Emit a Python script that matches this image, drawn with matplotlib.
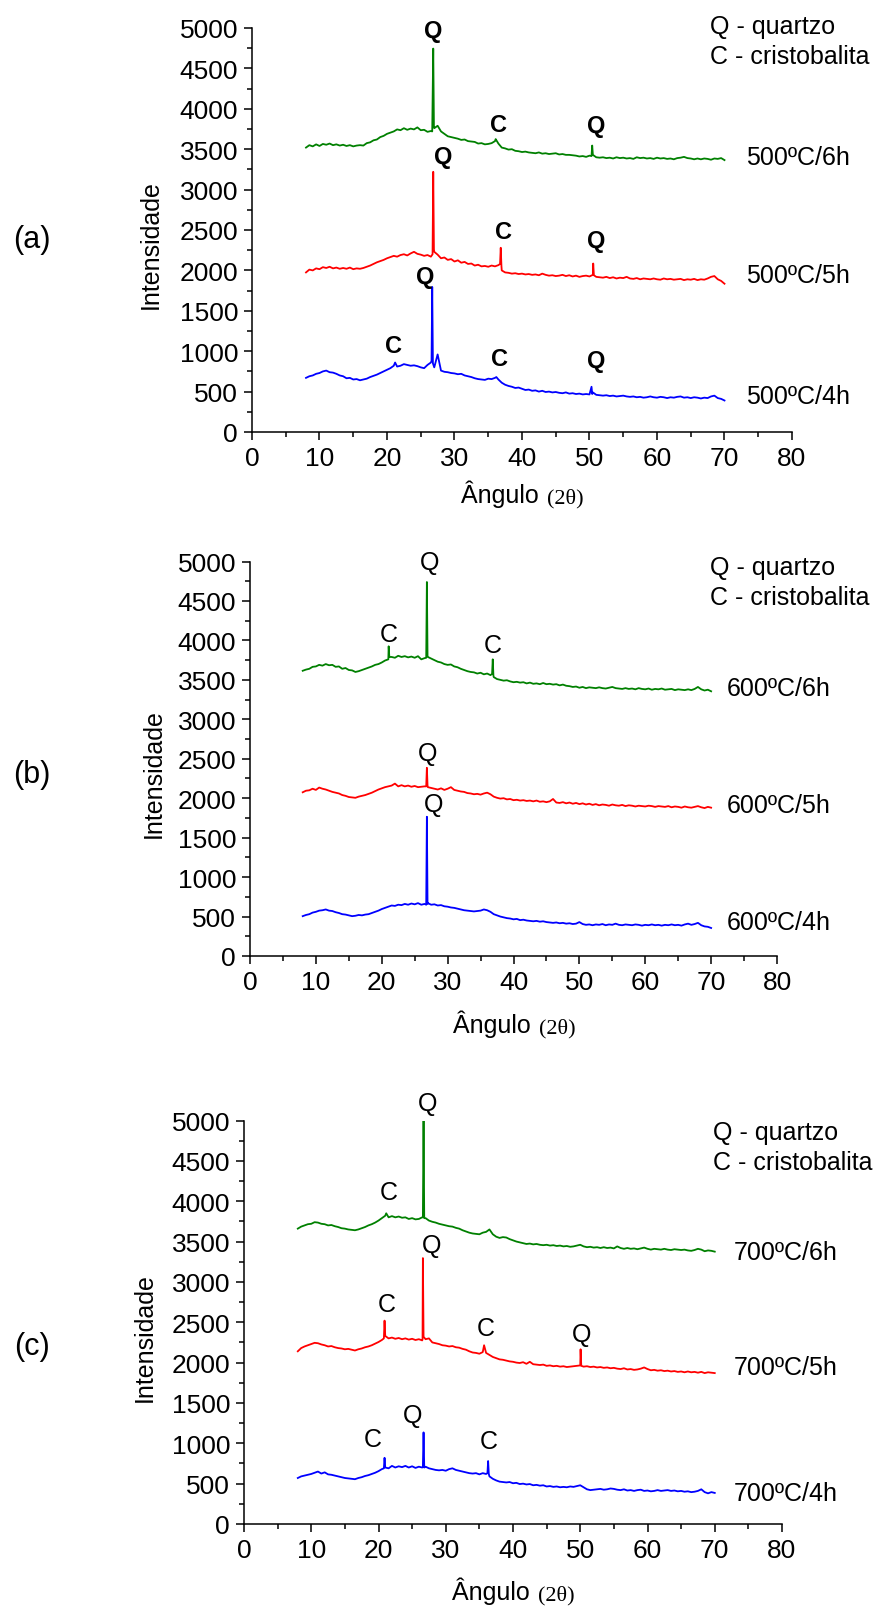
import numpy as np
import matplotlib.pyplot as plt
from matplotlib.ticker import MultipleLocator

plt.rcParams['font.family'] = ['Liberation Sans', 'DejaVu Sans']

# 2-theta grid, 8..70 step 0.5 (125 points)
angle = np.arange(8.0, 70.01, 0.5)

# ---------------- (a) 500 C ----------------
a_6h = [3520, 3550, 3535, 3560, 3540, 3565, 3555, 3570, 3550, 3560,
        3545, 3555, 3540, 3550, 3535, 3545, 3550, 3545, 3575, 3585,
        3610, 3620, 3650, 3665, 3690, 3705, 3720, 3745, 3735, 3760,
        3740, 3755, 3745, 3770, 3735, 3740, 3715, 3725, 3760, 3790,
        3720, 3690, 3660, 3650, 3640, 3630, 3615, 3620, 3600, 3595,
        3590, 3570, 3575, 3560, 3565, 3575, 3600, 3570, 3520, 3510,
        3495, 3500, 3480, 3475, 3465, 3470, 3460, 3455, 3450, 3460,
        3445, 3450, 3440, 3445, 3450, 3435, 3440, 3430, 3430, 3425,
        3420, 3410, 3415, 3405, 3420, 3430, 3400, 3395, 3400, 3390,
        3395, 3385, 3400, 3390, 3395, 3385, 3390, 3380, 3400, 3390,
        3395, 3385, 3390, 3380, 3395, 3385, 3390, 3380, 3385, 3375,
        3390, 3395, 3405, 3390, 3385, 3375, 3385, 3375, 3385, 3380,
        3370, 3385, 3380, 3390, 3365]
a_6h_peaks = [(26.7, 3720), (26.85, 4745), (26.95, 3780), (36.1, 3625),
              (50.3, 3415), (50.4, 3545)]

a_5h = [1975, 2010, 2000, 2025, 2015, 2040, 2030, 2045, 2025, 2035,
        2020, 2030, 2020, 2035, 2015, 2025, 2020, 2030, 2045, 2060,
        2080, 2100, 2115, 2130, 2150, 2165, 2180, 2170, 2190, 2200,
        2185, 2210, 2230, 2205, 2195, 2180, 2190, 2170, 2230, 2195,
        2150, 2160, 2130, 2140, 2110, 2125, 2095, 2105, 2080, 2085,
        2060, 2070, 2050, 2055, 2045, 2060, 2050, 2065, 2000, 1975,
        1970, 1960, 1965, 1955, 1960, 1950, 1955, 1945, 1950, 1940,
        1960, 1945, 1935, 1940, 1930, 1935, 1945, 1930, 1940, 1925,
        1935, 1920, 1930, 1935, 1925, 1945, 1920, 1915, 1910, 1920,
        1905, 1915, 1900, 1910, 1905, 1920, 1900, 1895, 1905, 1890,
        1900, 1895, 1890, 1900, 1890, 1885, 1900, 1890, 1895, 1885,
        1890, 1895, 1880, 1890, 1885, 1895, 1880, 1890, 1885, 1900,
        1920, 1930, 1890, 1870, 1835]
a_5h_peaks = [(26.75, 2200), (26.85, 3220), (26.95, 2260),
              (36.75, 2080), (36.85, 2280), (36.95, 2060),
              (50.55, 2085), (50.65, 1940)]

a_4h = [670, 690, 700, 720, 730, 750, 760, 740, 735, 720,
        700, 690, 665, 670, 650, 655, 640, 650, 660, 680,
        695, 710, 730, 750, 770, 790, 820, 810, 820, 840,
        830, 820, 825, 815, 800, 790, 830, 860, 800, 960,
        760, 745, 740, 730, 725, 715, 720, 700, 690, 680,
        665, 655, 650, 645, 660, 655, 670, 650, 610, 585,
        570, 560, 545, 550, 535, 520, 525, 510, 515, 500,
        510, 495, 500, 490, 495, 485, 480, 490, 475, 480,
        470, 475, 465, 470, 465, 490, 460, 455, 450, 455,
        445, 450, 440, 445, 450, 440, 435, 440, 430, 435,
        425, 430, 440, 430, 425, 435, 430, 420, 430, 425,
        435, 440, 425, 430, 420, 430, 425, 415, 425, 420,
        440, 450, 420, 410, 390]
a_4h_peaks = [(21.2, 860), (26.6, 880), (26.7, 1795), (26.8, 850),
              (36.2, 680), (50.3, 560), (50.4, 470)]

# ---------------- (b) 600 C ----------------
b_6h = [3615, 3630, 3640, 3665, 3670, 3690, 3680, 3700, 3685, 3690,
        3665, 3670, 3640, 3650, 3625, 3620, 3600, 3610, 3625, 3640,
        3655, 3670, 3690, 3700, 3720, 3745, 3760, 3790, 3780, 3805,
        3790, 3800, 3785, 3795, 3780, 3800, 3760, 3775, 3790, 3770,
        3750, 3730, 3720, 3700, 3690, 3695, 3670, 3660, 3640, 3625,
        3610, 3600, 3595, 3580, 3590, 3570, 3580, 3560, 3535, 3510,
        3500, 3490, 3495, 3480, 3470, 3475, 3465, 3470, 3455, 3465,
        3450, 3455, 3445, 3460, 3445, 3450, 3440, 3445, 3430, 3440,
        3425, 3420, 3410, 3415, 3400, 3410, 3395, 3405, 3400, 3395,
        3405, 3395, 3390, 3400, 3410, 3395, 3390, 3385, 3395, 3385,
        3390, 3380, 3395, 3385, 3380, 3390, 3375, 3385, 3380, 3390,
        3375, 3380, 3385, 3370, 3380, 3375, 3370, 3380, 3370, 3385,
        3410, 3380, 3365, 3375, 3355]
b_6h_peaks = [(21.05, 3925), (21.15, 3790),
              (26.75, 3780), (26.85, 4740), (26.95, 3800),
              (36.75, 3575), (36.85, 3760), (36.95, 3555)]

b_5h = [2075, 2095, 2100, 2120, 2105, 2135, 2120, 2110, 2095, 2080,
        2070, 2060, 2040, 2030, 2015, 2010, 2005, 2020, 2030, 2040,
        2055, 2070, 2090, 2110, 2125, 2140, 2150, 2160, 2185, 2150,
        2165, 2150, 2160, 2145, 2155, 2140, 2145, 2150, 2140, 2130,
        2120, 2110, 2125, 2105, 2120, 2140, 2105, 2095, 2085, 2080,
        2065, 2060, 2050, 2055, 2045, 2060, 2070, 2050, 2020, 2005,
        1995, 2000, 1985, 1990, 1975, 1980, 1970, 1975, 1965, 1970,
        1960, 1970, 1955, 1960, 1950, 1960, 1990, 1945, 1940, 1950,
        1935, 1945, 1930, 1940, 1925, 1935, 1920, 1930, 1915, 1925,
        1910, 1920, 1915, 1905, 1920, 1910, 1905, 1915, 1900, 1910,
        1905, 1895, 1905, 1900, 1895, 1905, 1900, 1890, 1900, 1895,
        1890, 1900, 1885, 1895, 1890, 1880, 1895, 1885, 1880, 1890,
        1900, 1885, 1875, 1890, 1880]
b_5h_peaks = [(26.75, 2150), (26.85, 2385), (26.95, 2160)]

b_4h = [505, 520, 530, 550, 560, 575, 580, 590, 575, 570,
        555, 545, 530, 525, 515, 505, 510, 520, 515, 525,
        530, 545, 560, 575, 595, 610, 625, 640, 635, 650,
        645, 660, 650, 665, 655, 670, 650, 660, 670, 650,
        655, 640, 645, 630, 625, 615, 610, 600, 590, 580,
        575, 570, 565, 570, 575, 590, 580, 560, 530, 515,
        500, 490, 480, 475, 465, 470, 455, 460, 450, 445,
        440, 445, 435, 440, 430, 425, 420, 425, 415, 420,
        410, 415, 405, 410, 430, 405, 395, 400, 390, 400,
        395, 405, 390, 400, 395, 410, 395, 390, 400, 395,
        390, 400, 395, 385, 395, 390, 400, 390, 395, 385,
        395, 390, 400, 390, 395, 385, 400, 410, 395, 405,
        420, 390, 375, 370, 355]
b_4h_peaks = [(26.75, 650), (26.85, 1765), (26.95, 660)]

# ---------------- (c) 700 C ----------------
c_6h = [3660, 3685, 3700, 3715, 3720, 3740, 3735, 3720, 3715, 3700,
        3705, 3690, 3680, 3665, 3660, 3650, 3645, 3640, 3650, 3665,
        3680, 3700, 3715, 3735, 3760, 3790, 3820, 3800, 3815, 3800,
        3810, 3795, 3800, 3780, 3790, 3775, 3780, 3800, 3790, 3760,
        3745, 3735, 3720, 3710, 3700, 3690, 3685, 3670, 3660, 3640,
        3625, 3610, 3600, 3595, 3590, 3610, 3620, 3650, 3590, 3560,
        3545, 3555, 3550, 3530, 3515, 3500, 3490, 3480, 3470, 3475,
        3465, 3470, 3460, 3455, 3460, 3450, 3455, 3445, 3450, 3440,
        3445, 3435, 3440, 3450, 3460, 3440, 3430, 3435, 3425, 3430,
        3420, 3430, 3420, 3425, 3415, 3440, 3420, 3410, 3420, 3410,
        3415, 3405, 3415, 3425, 3410, 3400, 3410, 3405, 3400, 3410,
        3400, 3395, 3405, 3400, 3395, 3400, 3390, 3385, 3395, 3410,
        3400, 3380, 3390, 3385, 3375]
c_6h_peaks = [(21.15, 3850), (26.6, 3800), (26.7, 5000), (26.8, 3790)]

c_5h = [2140, 2180, 2200, 2215, 2230, 2245, 2240, 2225, 2215, 2200,
        2205, 2190, 2180, 2175, 2165, 2170, 2160, 2150, 2165, 2175,
        2190, 2200, 2215, 2235, 2255, 2280, 2330, 2300, 2310, 2295,
        2305, 2290, 2300, 2285, 2295, 2280, 2290, 2275, 2290, 2300,
        2250, 2240, 2230, 2215, 2210, 2200, 2205, 2190, 2185, 2170,
        2160, 2140, 2125, 2120, 2110, 2130, 2120, 2095, 2070, 2055,
        2040, 2035, 2025, 2015, 2010, 2000, 1995, 2005, 1985, 2010,
        1980, 1975, 1970, 1975, 1960, 1965, 1955, 1960, 1950, 1955,
        1945, 1950, 1955, 1960, 1965, 1950, 1955, 1945, 1950, 1940,
        1945, 1935, 1940, 1930, 1935, 1925, 1920, 1930, 1915, 1920,
        1910, 1915, 1925, 1940, 1920, 1905, 1910, 1900, 1905, 1895,
        1900, 1890, 1895, 1885, 1890, 1880, 1890, 1880, 1885, 1875,
        1885, 1870, 1880, 1875, 1870]
c_5h_peaks = [(20.8, 2300), (20.9, 2520), (26.55, 2290), (26.6, 3295),
              (26.7, 2320), (35.7, 2215), (50.05, 2165), (50.15, 1960)]

c_4h = [570, 590, 600, 610, 620, 635, 650, 625, 640, 615,
        610, 600, 590, 580, 570, 565, 560, 555, 570, 580,
        595, 605, 620, 635, 655, 680, 700, 690, 720, 700,
        715, 705, 720, 700, 715, 695, 710, 700, 710, 690,
        680, 670, 665, 670, 660, 680, 690, 670, 660, 650,
        640, 630, 625, 630, 615, 630, 620, 590, 560, 540,
        525, 520, 515, 520, 505, 510, 495, 500, 490, 495,
        480, 485, 475, 480, 465, 470, 460, 465, 455, 460,
        455, 465, 460, 470, 480, 455, 430, 420, 425, 430,
        435, 425, 430, 440, 435, 425, 420, 430, 415, 420,
        410, 420, 425, 410, 415, 405, 410, 420, 410, 415,
        420, 410, 415, 405, 410, 400, 405, 395, 400, 410,
        430, 395, 380, 395, 385]
c_4h_peaks = [(20.8, 690), (20.9, 820), (26.6, 705), (26.7, 1135),
              (26.8, 700), (36.2, 630), (36.3, 780), (36.4, 620)]

# peak letters (x, y, text)
a_marks = [(26.9, 4972, 'Q'), (36.5, 3805, 'C'), (51.0, 3791, 'Q'),
           (28.3, 3404, 'Q'), (37.2, 2476, 'C'), (51.0, 2368, 'Q'),
           (25.7, 1919, 'Q'), (21.0, 1072, 'C'), (36.6, 907, 'C'), (51.0, 882, 'Q')]
b_marks = [(21.05, 4080, 'C'), (27.2, 4988, 'Q'), (36.8, 3940, 'C'),
           (26.9, 2572, 'Q'), (27.9, 1926, 'Q')]
c_marks = [(27.3, 5220, 'Q'), (21.5, 4115, 'C'),
           (27.9, 3457, 'Q'), (21.3, 2728, 'C'), (35.9, 2426, 'C'), (50.2, 2360, 'Q'),
           (25.0, 1350, 'Q'), (19.2, 1048, 'C'), (36.4, 1031, 'C')]

a_names = ['500ºC/6h', '500ºC/5h', '500ºC/4h']
b_names = ['600ºC/6h', '600ºC/5h', '600ºC/4h']
c_names = ['700ºC/6h', '700ºC/5h', '700ºC/4h']
a_name_y = [3403, 1943, 446]
b_name_y = [3392, 1913, 427]
c_name_y = [3370, 1949, 389]
name_x = [73.2, 72.3, 72.8]
legend_x = [67.8, 69.8, 69.7]
legend_y = [(5028, 4657), (4935, 4555), (4861, 4486)]
panel_tag = ['(a)', '(b)', '(c)']

colors = ['#008000', '#ff0000', '#0000ff']

# layout in pixels: left, right, top, bottom
W, H = 875, 1608
boxes = [(252, 792, 29, 433), (250, 777, 562.5, 957), (244, 782, 1121.5, 1525)]
ylab_x = [151, 154, 145]
tag_y = [240, 775, 1347]
xlab_base = [503, 1033, 1600]


def merge(grid_y, peaks):
    x = np.concatenate([angle, [p[0] for p in peaks]])
    y = np.concatenate([np.array(grid_y, float), [p[1] for p in peaks]])
    o = np.argsort(x)
    return x[o], y[o]


def fx(px):
    return px / W


def fy(py):
    return 1 - py / H


fig = plt.figure(figsize=(W / 100, H / 100), dpi=100)

panels = [([a_6h, a_5h, a_4h], [a_6h_peaks, a_5h_peaks, a_4h_peaks], a_marks, a_names, a_name_y),
          ([b_6h, b_5h, b_4h], [b_6h_peaks, b_5h_peaks, b_4h_peaks], b_marks, b_names, b_name_y),
          ([c_6h, c_5h, c_4h], [c_6h_peaks, c_5h_peaks, c_4h_peaks], c_marks, c_names, c_name_y)]

for g, (curves, peaks, marks, names, name_y) in enumerate(panels):
    l, r, t, b = boxes[g]
    ax = fig.add_axes([fx(l), fy(b), (r - l) / W, (b - t) / H])
    for k in range(3):
        assert len(curves[k]) == len(angle)
        x, y = merge(curves[k], peaks[k])
        ax.plot(x, y, color=colors[k], lw=1.3)
        ax.text(name_x[g], name_y[k], names[k], fontsize=18, ha='left', va='center')
    for (mx, my, s) in marks:
        ax.text(mx, my, s, fontsize=17 if g == 0 else 18,
                fontweight='bold' if g == 0 else 'normal', ha='center', va='center')
    ax.text(legend_x[g], legend_y[g][0], 'Q - quartzo', fontsize=18, ha='left', va='center')
    ax.text(legend_x[g], legend_y[g][1], 'C - cristobalita', fontsize=18, ha='left', va='center')

    ax.set_xlim(0, 80)
    ax.set_ylim(0, 5000)
    ax.set_xticks(range(0, 81, 10))
    ax.set_yticks(range(0, 5001, 500))
    ax.xaxis.set_minor_locator(MultipleLocator(5))
    ax.yaxis.set_minor_locator(MultipleLocator(250))
    ax.tick_params(which='major', direction='out', length=6, width=1.1, labelsize=19, pad=4)
    ax.tick_params(which='minor', direction='out', length=3.5, width=1.1)
    ax.spines['top'].set_visible(False)
    ax.spines['right'].set_visible(False)
    ax.spines['left'].set_linewidth(1.1)
    ax.spines['bottom'].set_linewidth(1.1)

    cx = (l + r) / 2
    fig.text(fx(cx + 17), fy(xlab_base[g]), 'Ângulo', fontsize=18, ha='right', va='baseline')
    fig.text(fx(cx + 25), fy(xlab_base[g]), '(2θ)', fontsize=16, ha='left', va='baseline',
             family='Liberation Serif')
    fig.text(fx(ylab_x[g]), fy((t + b) / 2 + 14), 'Intensidade', fontsize=18,
             rotation=90, ha='center', va='center')
    fig.text(fx(32), fy(tag_y[g]), panel_tag[g], fontsize=22, ha='center', va='center')

fig.savefig('out.png', dpi=100)
